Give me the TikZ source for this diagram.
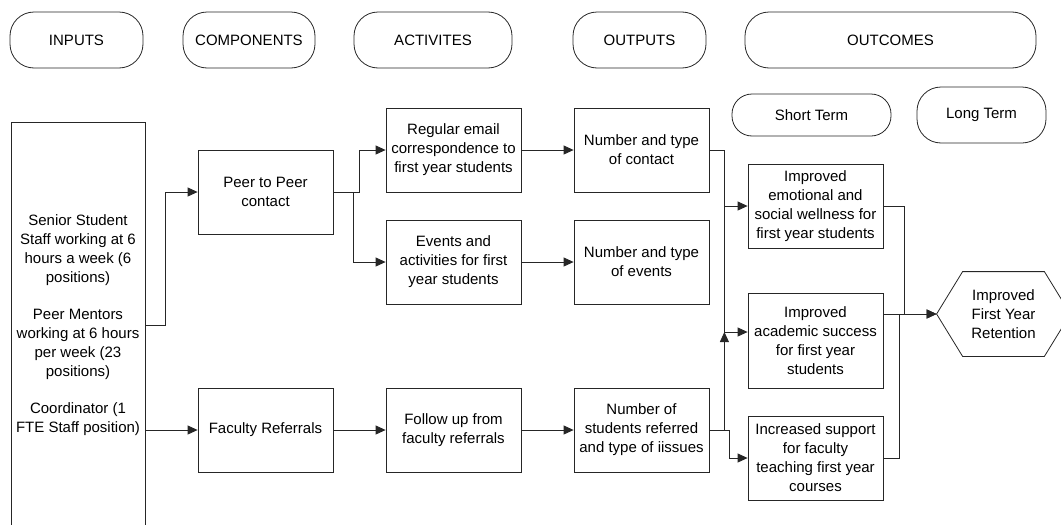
\documentclass[tikz,border=0pt]{standalone}
\usepackage{fontspec}
\setmainfont{Liberation Sans}
\usepackage{tikz}
\usetikzlibrary{arrows.meta,calc}

\tikzset{
  every node/.style={font=\fontsize{15}{19}\selectfont, align=center, inner sep=2pt},
  pill/.style={draw, rounded corners=24pt, minimum height=56pt},
  box/.style={draw, minimum width=135pt, minimum height=84pt},
  arr/.style={-{Triangle[length=10pt,width=9pt]}}
}

\begin{document}
\begin{tikzpicture}[x=1pt, y=-1pt, line width=0.8pt, draw=black!85]
\useasboundingbox (0,0) rectangle (1061,525);

\node[pill, minimum width=133pt] (hin) at (76.5,40) {INPUTS};
\node[pill, minimum width=132pt] (hcomp) at (249,40) {COMPONENTS};
\node[pill, minimum width=158pt] (hact) at (433,40) {ACTIVITES};
\node[pill, minimum width=133pt] (hout) at (639.5,40) {OUTPUTS};
\node[pill, minimum width=291pt] (houtc) at (890.5,40) {OUTCOMES};
\node[pill, minimum width=159pt, minimum height=42pt, rounded corners=20pt] (short) at (811.5,115) {Short Term};
\node[pill, minimum width=129pt] (long) at (981.5,115) {Long Term};

\node[draw, minimum width=134pt, minimum height=406pt] (staff) at (78,325)
  {Senior Student\\Staff working at 6\\hours a week (6\\positions)\\[18pt]
   Peer Mentors\\working at 6 hours\\per week (23\\positions)\\[18pt]
   Coordinator (1\\FTE Staff position)};

\node[box] (peer) at (265.5,192) {Peer to Peer\\contact};
\node[box] (fac) at (265.5,430) {Faculty Referrals};

\node[box] (email) at (453.5,150) {Regular email\\correspondence to\\first year students};
\node[box] (events) at (453.5,262) {Events and\\activities for first\\year students};
\node[box] (follow) at (453.5,430) {Follow up from\\faculty referrals};

\node[box] (ncontact) at (641.5,150) {Number and type\\of contact};
\node[box] (nevents) at (641.5,262) {Number and type\\of events};
\node[box] (nref) at (641.5,430) {Number of\\students referred\\and type of iissues};

\node[box] (emo) at (815.5,206) {Improved\\emotional and\\social wellness for\\first year students};
\node[box, minimum height=95pt] (acad) at (815.5,340.5) {Improved\\academic success\\for first year\\students};
\node[box] (supp) at (815.5,458) {Increased support\\for faculty\\teaching first year\\courses};

\node[minimum width=133pt, minimum height=84pt] (ret) at (1003.5,314) {Improved\\First Year\\Retention};
\draw (ret.west) -- ([xshift=26pt]ret.north west) -- ([xshift=-26pt]ret.north east) -- (ret.east)
  -- ([xshift=-26pt]ret.south east) -- ([xshift=26pt]ret.south west) -- cycle;

\coordinate (acadin) at ([yshift=8.5pt]acad.west);
\coordinate (acadout) at ([yshift=26.5pt]acad.east);
\coordinate (jct) at ($(ncontact.east)+(15,0)$);

\draw[arr] (staff.east) -- ++(20,0) |- (peer.west);
\draw[arr] (staff.east |- fac.west) -- (fac.west);
\draw[arr] (peer.east) -- ++(26,0) |- (email.west);
\draw[arr] (peer.east) -- ++(20,0) |- (events.west);
\draw[arr] (fac.east) -- (follow.west);
\draw[arr] (email.east) -- (ncontact.west);
\draw[arr] (events.east) -- (nevents.west);
\draw[arr] (follow.east) -- (nref.west);
\draw[arr] (ncontact.east) -- (jct) |- (emo.west);
\draw[arr] (jct) |- (acadin);
\draw[arr] (nref.east) -| (jct |- acadin);
\draw[arr] (nref.east) -- ++(20,0) |- (supp.west);
\draw[arr] (emo.east) -- ++(21,0) |- (ret.west);
\draw[arr] (acadout) -- (ret.west);
\draw (supp.east) -| ($(acadout)+(16,0)$);
\end{tikzpicture}
\end{document}
